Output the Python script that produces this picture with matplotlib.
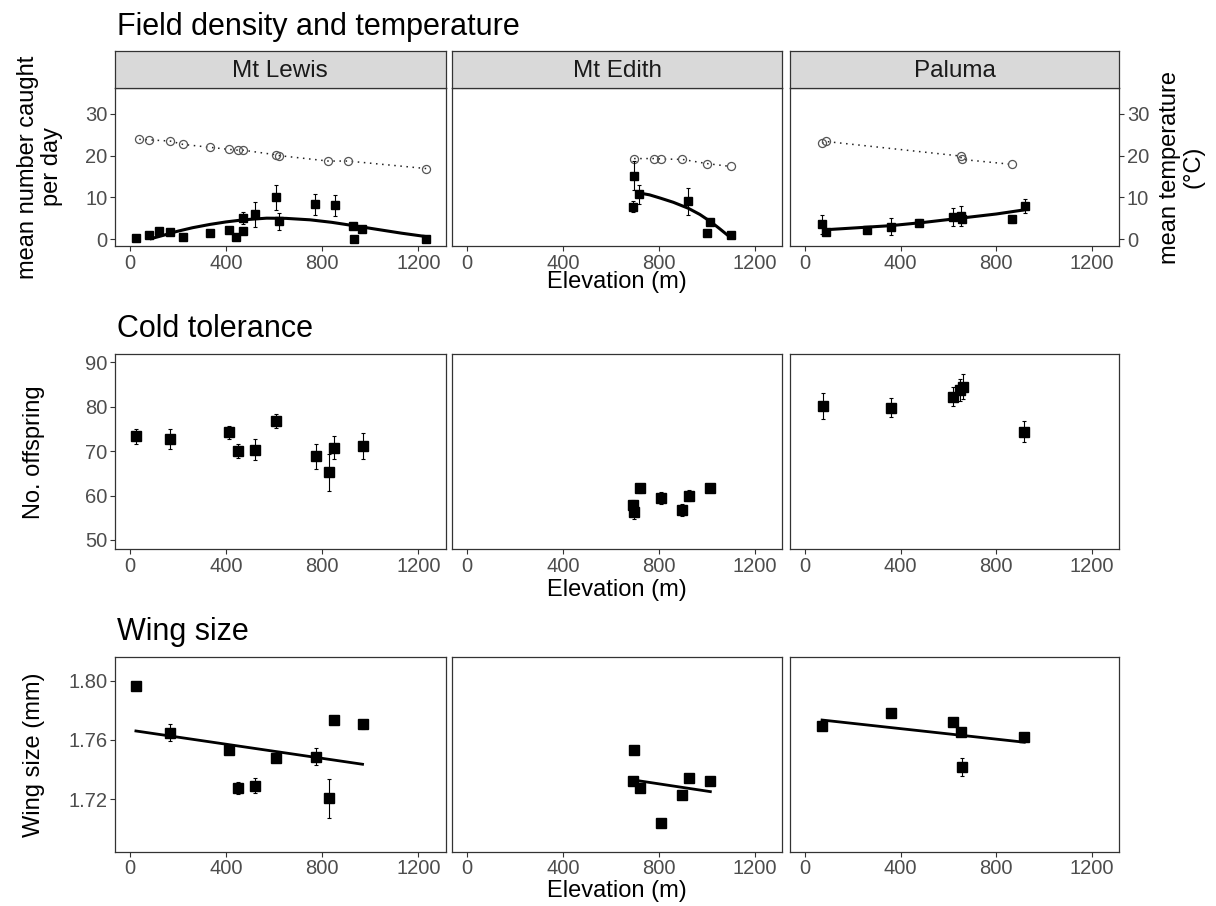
import matplotlib
matplotlib.use('Agg')
import matplotlib.pyplot as plt

plt.rcParams['font.family'] = ['Liberation Sans', 'DejaVu Sans']

# ---------------- data ----------------
sites = ['Mt Lewis', 'Mt Edith', 'Paluma']
x_ticks = [0, 400, 800, 1200]

# Field density (mean number caught per day)
lewis_count_elev = [25, 78, 122, 167, 221, 333, 411, 442, 472, 472, 520, 608, 619, 772, 854, 928, 932, 967, 1230]
lewis_count = [0.2, 1.0, 1.9, 1.8, 0.4, 1.5, 2.2, 0.4, 2.0, 5.0, 5.9, 10.0, 4.2, 8.3, 8.1, 3.1, 0.0, 2.4, 0.0]
lewis_count_se = [0.2, 0.2, 0.3, 0.3, 0.2, 0.3, 0.3, 0.2, 0.3, 1.4, 3.0, 3.0, 2.0, 2.5, 2.5, 0.5, 0.0, 0.6, 0.0]
edith_count_elev = [692, 696, 718, 921, 999, 1011, 1099]
edith_count = [7.7, 15.2, 10.7, 9.0, 1.5, 4.0, 1.0]
edith_count_se = [1.3, 3.5, 2.2, 3.3, 0.0, 0.6, 0.0]
paluma_count_elev = [72, 88, 258, 358, 475, 618, 654, 656, 864, 918]
paluma_count = [3.5, 1.8, 2.1, 3.0, 3.9, 5.3, 5.5, 4.8, 4.7, 7.9]
paluma_count_se = [2.3, 0.0, 0.0, 2.0, 0.8, 2.2, 2.3, 0.5, 0.8, 1.6]

# Mean temperature (°C)
lewis_temp_elev = [39, 78, 167, 221, 333, 412, 451, 472, 608, 622, 826, 908, 1233]
lewis_temp = [23.9, 23.8, 23.5, 22.7, 22.0, 21.5, 21.3, 21.3, 20.2, 20.0, 18.7, 18.7, 16.9]
edith_temp_elev = [696, 778, 808, 897, 999, 1099]
edith_temp = [19.3, 19.3, 19.2, 19.1, 18.1, 17.4]
paluma_temp_elev = [72, 88, 651, 655, 867]
paluma_temp = [23.0, 23.4, 19.9, 19.1, 17.9]

# Fitted curves for density
lewis_fit_elev = [83, 140, 194, 260, 333, 400, 472, 569, 650, 750, 840, 931, 1030, 1130, 1230]
lewis_fit = [0.0, 0.9, 1.8, 2.7, 3.5, 4.1, 4.6, 5.0, 4.95, 4.6, 4.0, 3.2, 2.3, 1.4, 0.6]
edith_fit_elev = [702, 760, 806, 860, 921, 970, 1014, 1050, 1099]
edith_fit = [11.2, 10.6, 9.8, 8.8, 7.4, 5.9, 4.2, 2.6, 0.3]
paluma_fit_elev = [80, 220, 358, 500, 650, 800, 918]
paluma_fit = [2.2, 2.7, 3.2, 4.0, 5.0, 6.0, 7.0]

# Cold tolerance (No. offspring)
lewis_off_elev = [25, 167, 414, 451, 520, 608, 774, 828, 851, 968]
lewis_off = [73.3, 72.7, 74.2, 70.0, 70.3, 76.8, 68.8, 65.2, 70.8, 71.1]
lewis_off_se = [1.6, 2.2, 1.5, 1.5, 2.4, 1.6, 2.8, 4.2, 2.5, 2.9]
edith_off_elev = [692, 697, 721, 810, 897, 924, 1014]
edith_off = [57.9, 56.4, 61.6, 59.4, 56.8, 60.0, 61.6]
edith_off_se = [1.0, 1.6, 1.0, 1.3, 1.4, 1.3, 0.9]
paluma_off_elev = [74, 360, 618, 650, 660, 916]
paluma_off = [80.2, 79.8, 82.3, 83.7, 84.5, 74.4]
paluma_off_se = [2.9, 2.2, 2.1, 2.5, 2.8, 2.4]

# Wing size (mm)
lewis_wing_elev = [25, 167, 414, 451, 520, 608, 774, 828, 851, 968]
lewis_wing = [1.7966, 1.7649, 1.7532, 1.7273, 1.7289, 1.7476, 1.7487, 1.7205, 1.7734, 1.7705]
lewis_wing_se = [0.0015, 0.0055, 0.002, 0.004, 0.005, 0.002, 0.006, 0.013, 0.002, 0.003]
edith_wing_elev = [692, 696, 721, 810, 897, 924, 1014]
edith_wing = [1.7322, 1.7532, 1.7273, 1.7041, 1.7228, 1.7345, 1.7322]
edith_wing_se = [0.002, 0.002, 0.002, 0.001, 0.002, 0.002, 0.002]
paluma_wing_elev = [72, 360, 618, 654, 656, 917]
paluma_wing = [1.7694, 1.7780, 1.7723, 1.7655, 1.7419, 1.7618]
paluma_wing_se = [0.001, 0.001, 0.001, 0.001, 0.006, 0.002]

lewis_wing_fit_elev = [25, 968]
lewis_wing_fit = [1.7660, 1.7435]
edith_wing_fit_elev = [692, 1014]
edith_wing_fit = [1.7329, 1.7250]
paluma_wing_fit_elev = [72, 917]
paluma_wing_fit = [1.7734, 1.7584]

# ---------------- layout ----------------
W, H = 1216, 906
fig = plt.figure(figsize=(W / 100, H / 100), dpi=100)

cols = [(115, 445.7), (452.3, 782.3), (790, 1119.3)]
rows = [(87.7, 246.3), (354, 549), (656.7, 851.7)]
strip = (51, 87.7)
ylims = [(-1.75, 36.3), (47.97, 91.87), (1.6844, 1.8162)]
yticks = [[0, 10, 20, 30], [50, 60, 70, 80, 90], [1.72, 1.76, 1.80]]
XLIM = (-62, 1314)

EDGE = '#333333'
TICKC = '#4D4D4D'
TS = 14.5


def rect(x0, x1, y0, y1):
    return [x0 / W, 1 - y1 / H, (x1 - x0) / W, (y1 - y0) / H]


def style(ax, r, c):
    for s in ax.spines.values():
        s.set_color(EDGE)
        s.set_linewidth(0.9)
    ax.set_xlim(*XLIM)
    ax.set_ylim(*ylims[r])
    ax.set_xticks(x_ticks)
    ax.set_yticks(yticks[r])
    ax.tick_params(colors=EDGE, labelcolor=TICKC, labelsize=TS, length=3.5, width=0.8, pad=2)
    if r == 2:
        ax.set_yticklabels(['%.2f' % v for v in yticks[r]])
    if c == 0:
        pass
    elif r == 0 and c == 2:
        ax.yaxis.tick_right()
    else:
        ax.tick_params(axis='y', left=False, labelleft=False)


axes = [[None] * 3 for _ in range(3)]
for r in range(3):
    for c in range(3):
        ax = fig.add_axes(rect(cols[c][0], cols[c][1], rows[r][0], rows[r][1]))
        style(ax, r, c)
        axes[r][c] = ax

# strips
for c in range(3):
    sax = fig.add_axes(rect(cols[c][0], cols[c][1], strip[0], strip[1]))
    sax.set_facecolor('#D9D9D9')
    sax.set_xticks([])
    sax.set_yticks([])
    for s in sax.spines.values():
        s.set_color(EDGE)
        s.set_linewidth(0.9)
    sax.text(0.5, 0.45, sites[c], transform=sax.transAxes, ha='center', va='center',
             fontsize=17.5, color='#1A1A1A')

ebkw = dict(fmt='none', ecolor='black', elinewidth=0.8, capsize=1.5, capthick=0.8, zorder=3)

# Row 1: density & temperature
count_sets = [(lewis_count_elev, lewis_count, lewis_count_se),
              (edith_count_elev, edith_count, edith_count_se),
              (paluma_count_elev, paluma_count, paluma_count_se)]
temp_sets = [(lewis_temp_elev, lewis_temp), (edith_temp_elev, edith_temp), (paluma_temp_elev, paluma_temp)]
fit_sets = [(lewis_fit_elev, lewis_fit), (edith_fit_elev, edith_fit), (paluma_fit_elev, paluma_fit)]
for c in range(3):
    ax = axes[0][c]
    tx, ty = temp_sets[c]
    ax.plot(tx, ty, linestyle=(0, (1, 3)), color='#222222', lw=1.1, zorder=2)
    ax.plot(tx, ty, 'o', ms=5.8, mfc='none', mec='#555555', mew=0.9, zorder=2.5)
    ex, ey, ese = count_sets[c]
    ax.errorbar(ex, ey, yerr=ese, **ebkw)
    ax.plot(ex, ey, 's', ms=5.4, color='black', zorder=4)
    fx, fy = fit_sets[c]
    ax.plot(fx, fy, color='black', lw=2.2, zorder=5, solid_capstyle='butt')

# Row 2: cold tolerance
off_sets = [(lewis_off_elev, lewis_off, lewis_off_se),
            (edith_off_elev, edith_off, edith_off_se),
            (paluma_off_elev, paluma_off, paluma_off_se)]
for c in range(3):
    ax = axes[1][c]
    ex, ey, ese = off_sets[c]
    ax.errorbar(ex, ey, yerr=ese, **ebkw)
    ax.plot(ex, ey, 's', ms=7.3, color='black', zorder=4)

# Row 3: wing size
wing_sets = [(lewis_wing_elev, lewis_wing, lewis_wing_se),
             (edith_wing_elev, edith_wing, edith_wing_se),
             (paluma_wing_elev, paluma_wing, paluma_wing_se)]
wfit_sets = [(lewis_wing_fit_elev, lewis_wing_fit), (edith_wing_fit_elev, edith_wing_fit),
             (paluma_wing_fit_elev, paluma_wing_fit)]
for c in range(3):
    ax = axes[2][c]
    ex, ey, ese = wing_sets[c]
    ax.errorbar(ex, ey, yerr=ese, **ebkw)
    ax.plot(ex, ey, 's', ms=7.3, color='black', zorder=4)
    fx, fy = wfit_sets[c]
    ax.plot(fx, fy, color='black', lw=2.0, zorder=5)

# ---------------- text ----------------
def ftext(x, y, s, **kw):
    fig.text(x / W, 1 - y / H, s, **kw)

ftext(117, 27, 'Field density and temperature', fontsize=22, ha='left', va='center', color='black')
ftext(117, 329, 'Cold tolerance', fontsize=22, ha='left', va='center', color='black')
ftext(117, 632, 'Wing size', fontsize=22, ha='left', va='center', color='black')

for yy in (282, 590, 891):
    ftext(617, yy, 'Elevation (m)', fontsize=17, ha='center', va='center', color='black')

ftext(40, 167, 'mean number caught\nper day', fontsize=17, ha='center', va='center',
      rotation=90, linespacing=1.1, color='black')
ftext(34, 452, 'No. offspring', fontsize=17, ha='center', va='center', rotation=90, color='black')
ftext(34, 755, 'Wing size (mm)', fontsize=17, ha='center', va='center', rotation=90, color='black')
ftext(1182, 167, 'mean temperature\n(°C)', fontsize=17, ha='center', va='center',
      rotation=90, linespacing=1.1, color='black')

fig.savefig('out.png', dpi=100, facecolor='white')
